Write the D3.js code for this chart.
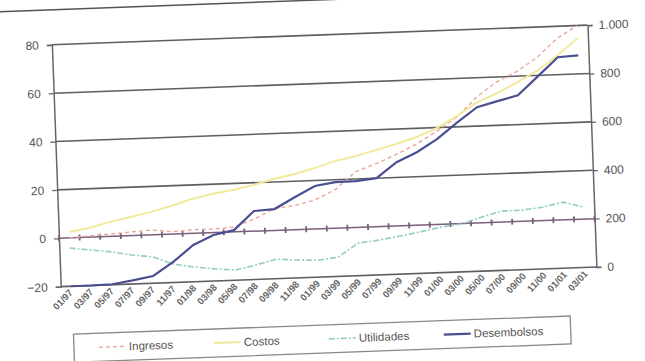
<!DOCTYPE html>
<html>
<head>
<meta charset="utf-8">
<script src="https://cdn.jsdelivr.net/npm/d3@7"></script>
<style>
  body { margin: 0; background: #fff; }
  text { font-family: "Liberation Sans", Arial, sans-serif; }
</style>
</head>
<body>
<div id="container"></div>
<script>
// valeurs
const categories = ['01/97', '03/97', '05/97', '07/97', '09/97', '11/97', '01/98', '03/98', '05/98',
  '07/98', '09/98', '11/98', '01/99', '03/99', '05/99', '07/99', '09/99', '11/99', '01/00',
  '03/00', '05/00', '07/00', '09/00', '11/00', '01/01', '03/01']
const ingresos = [0, 0.5, 1, 1.5, 2, 1, 1.5, 1.5, 2, 5, 9, 10, 12, 16, 23, 26, 29.5, 33.5, 38.5,
  44, 52, 58, 62, 67.5, 75, 80]
const costos = [2.4, 3.8, 6, 7.7, 9.5, 11.6, 14.2, 16, 17.3, 19, 21.2, 22.9, 25.1, 27.7, 29.4,
  31.6, 33.8, 36.3, 39.8, 44.4, 49.8, 53.3, 57.5, 62.1, 68, 74.7]
const utilidades = [-4.2, -5.3, -6.4, -8, -9.1, -12.4, -13.9, -15, -15.8, -14, -11.9, -12.6, -13,
  -12, -6.5, -5.6, -4.3, -2.9, -1.2, -0.2, 2.3, 4.5, 4.6, 5.5, 7.3, 4.9]
const desembolsos = [0, 0, 2, 15, 30, 85, 152, 190, 207, 283, 288, 334, 377, 390, 391, 400, 463,
  501, 552, 617, 678, 700, 721, 796, 872, 877]
const leftTicks = [-20, 0, 20, 40, 60, 80]
const rightTicks = [0, 200, 400, 600, 800, 1000]
const seriesNames = ['Ingresos', 'Costos', 'Utilidades', 'Desembolsos']

function displayChart() {
  const width = 645, height = 361
  const left = 57, right = 593, top = 35, bottom = 277

  const svg = d3.select('#container').append('svg')
    .attr('width', width)
    .attr('height', height)

  // le scan est légèrement penché
  const chart = svg.append('g')
    .attr('transform', 'rotate(-2.1, 322, 180)')

  // cadre du haut
  chart.append('line')
    .attr('x1', -40).attr('x2', width + 40)
    .attr('y1', 0).attr('y2', 0)
    .attr('stroke', '#555').attr('stroke-width', 1.5)

  const x = d3.scalePoint()
    .domain(categories)
    .range([left, right])
    .padding(0.5)

  const yLeft = d3.scaleLinear().domain([-20, 80]).range([bottom, top])
  const yRight = d3.scaleLinear().domain([0, 1000]).range([bottom, top])

  // grille
  chart.append('g')
    .selectAll('line')
    .data(leftTicks.filter(t => t !== 0))
    .join('line')
    .attr('x1', left).attr('x2', right)
    .attr('y1', d => yLeft(d)).attr('y2', d => yLeft(d))
    .attr('stroke', '#5e5e5e')
    .attr('stroke-width', 1.6)

  // axe gauche
  const axisLeft = chart.append('g')
    .attr('transform', `translate(${left},0)`)
    .call(d3.axisLeft(yLeft).tickValues(leftTicks).tickSize(5).tickPadding(8))
  axisLeft.select('.domain').attr('stroke', '#666').attr('stroke-width', 1.5)
  axisLeft.selectAll('.tick line').attr('stroke', '#666').attr('stroke-width', 1.3)
  axisLeft.selectAll('text').attr('fill', '#555').attr('font-size', 12)

  // axe droit
  const axisRight = chart.append('g')
    .attr('transform', `translate(${right},0)`)
    .call(d3.axisRight(yRight).tickValues(rightTicks).tickSize(5).tickPadding(6)
      .tickFormat(d => d3.format(',')(d).replace(',', '.')))
  axisRight.select('.domain').attr('stroke', '#666').attr('stroke-width', 1.5)
  axisRight.selectAll('.tick line').attr('stroke', '#666').attr('stroke-width', 1.3)
  axisRight.selectAll('text').attr('fill', '#555').attr('font-size', 12)

  // axe des catégories (croise à 0)
  const step = x.step()
  const zero = chart.append('g')
  zero.append('line')
    .attr('x1', left).attr('x2', right)
    .attr('y1', yLeft(0)).attr('y2', yLeft(0))
    .attr('stroke', '#7a5f78').attr('stroke-width', 1.5)
  zero.selectAll('.tk')
    .data(d3.range(categories.length + 1))
    .join('line')
    .attr('class', 'tk')
    .attr('x1', i => left + i * step).attr('x2', i => left + i * step)
    .attr('y1', yLeft(0) - 3).attr('y2', yLeft(0) + 3)
    .attr('stroke', '#7a5f78').attr('stroke-width', 1.8)

  // étiquettes en bas
  chart.append('g')
    .selectAll('text')
    .data(categories)
    .join('text')
    .attr('transform', d => `translate(${x(d) + 2},${bottom + 7}) rotate(-45)`)
    .attr('text-anchor', 'end')
    .attr('fill', '#666')
    .attr('font-size', 9.5)
    .attr('font-weight', 'bold')
    .text(d => d)

  // séries
  const styles = [
    { data: ingresos, scale: yLeft, color: '#e8a79c', width: 1.4, dash: '4,3' },
    { data: costos, scale: yLeft, color: '#f1ea9c', width: 2, dash: null },
    { data: utilidades, scale: yLeft, color: '#94cdc5', width: 1.6, dash: '6,2,2,2' },
    { data: desembolsos, scale: yRight, color: '#4b4f92', width: 2.2, dash: null }
  ]

  styles.forEach(s => {
    const line = d3.line()
      .x((d, i) => x(categories[i]))
      .y(d => s.scale(d))
    chart.append('path')
      .datum(s.data)
      .attr('d', line)
      .attr('fill', 'none')
      .attr('stroke', s.color)
      .attr('stroke-width', s.width)
      .attr('stroke-dasharray', s.dash)
  })

  // légende
  const legend = chart.append('g')
  legend.append('rect')
    .attr('x', 68).attr('y', 325)
    .attr('width', 497).attr('height', 28)
    .attr('fill', '#fff')
    .attr('stroke', '#888')
    .attr('stroke-width', 1.3)

  seriesNames.forEach((name, i) => {
    const x0 = 93 + i * 115
    legend.append('line')
      .attr('x1', x0).attr('x2', x0 + 27)
      .attr('y1', 339).attr('y2', 339)
      .attr('stroke', styles[i].color)
      .attr('stroke-width', styles[i].width)
      .attr('stroke-dasharray', styles[i].dash)
    legend.append('text')
      .attr('x', x0 + 30)
      .attr('y', 343)
      .attr('fill', '#555')
      .attr('font-size', 11.5)
      .text(name)
  })
}

displayChart()
</script>
</body>
</html>
